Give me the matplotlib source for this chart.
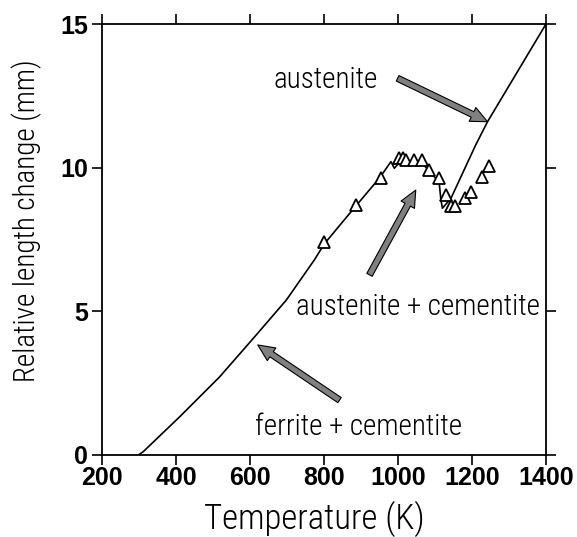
import matplotlib
matplotlib.use('Agg')
import matplotlib.pyplot as plt

# dilatometer curve (temperature in K, length change in mm)
temp = [298, 311, 410, 518, 617, 698, 774, 801, 887, 950, 981, 990, 1000,
        1050, 1066, 1085, 1111, 1116, 1120, 1143, 1210, 1242, 1400]
length = [0.0, 0.11, 1.33, 2.72, 4.18, 5.39, 6.79, 7.35, 8.68, 9.64, 10.21, 9.98, 10.12,
          10.14, 10.16, 9.86, 9.51, 8.88, 8.59, 8.93, 10.79, 11.6, 15.0]

# measured points (triangles)
meas_temp = [801, 887, 955, 1004, 1013, 1022, 1044, 1066, 1085, 1110, 1129,
             1143, 1155, 1182, 1197, 1228, 1246]
meas_len = [7.42, 8.70, 9.65, 10.33, 10.35, 10.27, 10.27, 10.27, 9.92, 9.63, 9.05,
            8.65, 8.65, 8.93, 9.16, 9.69, 10.06]

xticks = [200, 400, 600, 800, 1000, 1200, 1400]
yticks = [0, 5, 10, 15]

narrow = ['Roboto Condensed', 'Liberation Sans', 'DejaVu Sans']

fig = plt.figure(figsize=(5.77, 5.37), dpi=100)
ax = fig.add_axes([102/577, 82/537, 444/577, 431/537])

ax.plot(temp, length, color='black', lw=1.2)
ax.plot(meas_temp, meas_len, linestyle='none', marker='^', markersize=8,
        mfc='white', mec='black', mew=1.3)

ax.set_xlim(200, 1400)
ax.set_ylim(0, 15)
ax.set_xticks(xticks)
ax.set_yticks(yticks)
ax.tick_params(direction='out', length=7, width=1.2, top=True, right=True,
               labeltop=False, labelright=False)
ax.tick_params(axis='x', pad=1)
ax.tick_params(axis='y', pad=3)
for lab in ax.get_xticklabels() + ax.get_yticklabels():
    lab.set_fontfamily(['Liberation Sans', 'DejaVu Sans'])
    lab.set_fontweight('bold')
    lab.set_fontsize(18)
for s in ax.spines.values():
    s.set_linewidth(1.3)

fig.text(314/577, 1 - 519/537, 'Temperature (K)', family=narrow, fontsize=25,
         weight=300, ha='center', va='center')
fig.text(27/577, 1 - 221/537, 'Relative length change (mm)', family=narrow,
         fontsize=21, weight=300, rotation=90, ha='center', va='center')

ax.text(805, 12.77, 'austenite', family=narrow, fontsize=21, weight=300,
        ha='center', va='baseline')
ax.text(1053, 4.87, 'austenite + cementite', family=narrow, fontsize=21, weight=300,
        ha='center', va='baseline')
ax.text(893, 0.70, 'ferrite + cementite', family=narrow, fontsize=21, weight=300,
        ha='center', va='baseline')

arrow = dict(arrowstyle='simple,head_length=0.6,head_width=0.55,tail_width=0.22',
             fc='#808080', ec='black', lw=0.8, shrinkA=0, shrinkB=0,
             mutation_scale=20)
ax.annotate('', xy=(1242, 11.6), xytext=(999, 13.11), arrowprops=arrow)
ax.annotate('', xy=(1048, 9.22), xytext=(923, 6.27), arrowprops=arrow)
ax.annotate('', xy=(621, 3.83), xytext=(842, 1.91), arrowprops=arrow)

fig.savefig('out.png', dpi=100)
